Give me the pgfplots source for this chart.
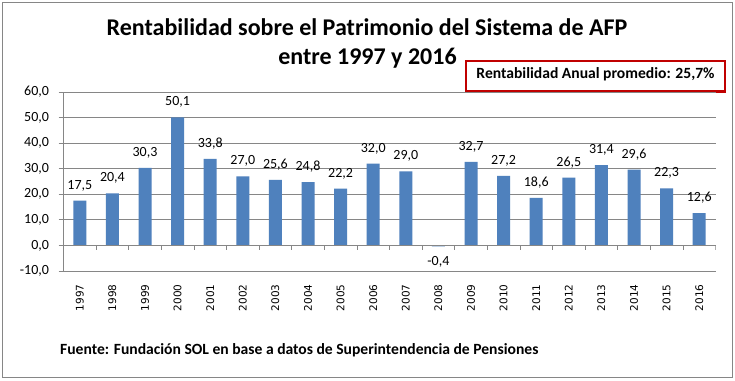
\documentclass[border=0pt]{standalone}
\usepackage{pgfplots}
\pgfplotsset{compat=1.18}
\usepackage{fontspec}
\setmainfont{Carlito}
\newfontfamily\yearfont{DejaVu Sans}
\definecolor{barblue}{HTML}{4F81BD}
\definecolor{gridgray}{HTML}{868686}
\definecolor{boxred}{HTML}{C00000}
\begin{document}
\begin{tikzpicture}
\useasboundingbox (0pt,0pt) rectangle (735pt,380pt);
\fill[white] (0pt,0pt) rectangle (735pt,380pt);
\draw[gridgray, line width=1pt] (2.5pt,3pt) rectangle (732.5pt,377.5pt);
\node[anchor=base, font=\fontsize{24}{28}\selectfont\bfseries, inner sep=0pt] at (367pt,344pt) {Rentabilidad sobre el Patrimonio del Sistema de AFP};
\node[anchor=base, font=\fontsize{24}{28}\selectfont\bfseries, inner sep=0pt] at (367.5pt,315pt) {entre 1997 y 2016};
\draw[boxred, line width=2.5pt] (466pt,288.5pt) rectangle (725pt,319pt);
\node[anchor=base, font=\fontsize{15.6}{18}\selectfont\bfseries, inner sep=0pt] at (595.5pt,301.5pt) {Rentabilidad Anual promedio: 25,7\%};
\node[anchor=base west, font=\fontsize{15.6}{18}\selectfont\bfseries, inner sep=0pt] at (60pt,26pt) {Fuente: Fundación SOL en base a datos de Superintendencia de Pensiones};
\begin{axis}[
  at={(63.5pt,109pt)}, anchor=south west,
  scale only axis, width=652pt, height=179pt,
  ymin=-10, ymax=60, ytick={-10,0,...,60},
  xmin=-0.5, xmax=19.5, xtick={0,...,19},
  xticklabels={1997,1998,1999,2000,2001,2002,2003,2004,2005,2006,2007,2008,2009,2010,2011,2012,2013,2014,2015,2016},
  enlargelimits=false,
  ymajorgrids, grid style={gridgray, line width=0.8pt},
  axis x line*=bottom, axis y line*=left,
  x axis line style={draw=none},
  y axis line style={gridgray, line width=0.8pt, -},
  xtick style={draw=none},
  ytick style={gridgray, line width=0.8pt},
  tick align=outside, major tick length=5pt,
  yticklabel style={font=\fontsize{14}{16}\selectfont, xshift=-6pt},
  xticklabel style={font=\yearfont\fontsize{10.5}{12}\selectfont, yshift=-5pt, rotate=90, anchor=east},
  /pgf/number format/.cd, fixed, fixed zerofill, precision=1, use comma, assume math mode=true,
  /pgfplots/.cd,
  ybar, bar width=13pt,
  nodes near coords,
  nodes near coords style={font=\fontsize{14}{16}\selectfont, black, inner xsep=2pt, inner ysep=9.5pt},
]
\addplot[fill=barblue, draw=none] coordinates {
(0,17.5) (1,20.4) (2,30.3) (3,50.1) (4,33.8) (5,27.0) (6,25.6) (7,24.8) (8,22.2) (9,32.0)
(10,29.0) (11,-0.4) (12,32.7) (13,27.2) (14,18.6) (15,26.5) (16,31.4) (17,29.6) (18,22.3) (19,12.6)};
\draw[gridgray, line width=0.8pt] (axis cs:-0.5,0) -- (axis cs:19.5,0);
\pgfplotsinvokeforeach{-0.5,0.5,...,19.5}{\draw[gridgray, line width=0.8pt] (axis cs:#1,0) -- ++(0pt,-4.5pt);}
\end{axis}
\end{tikzpicture}
\end{document}
